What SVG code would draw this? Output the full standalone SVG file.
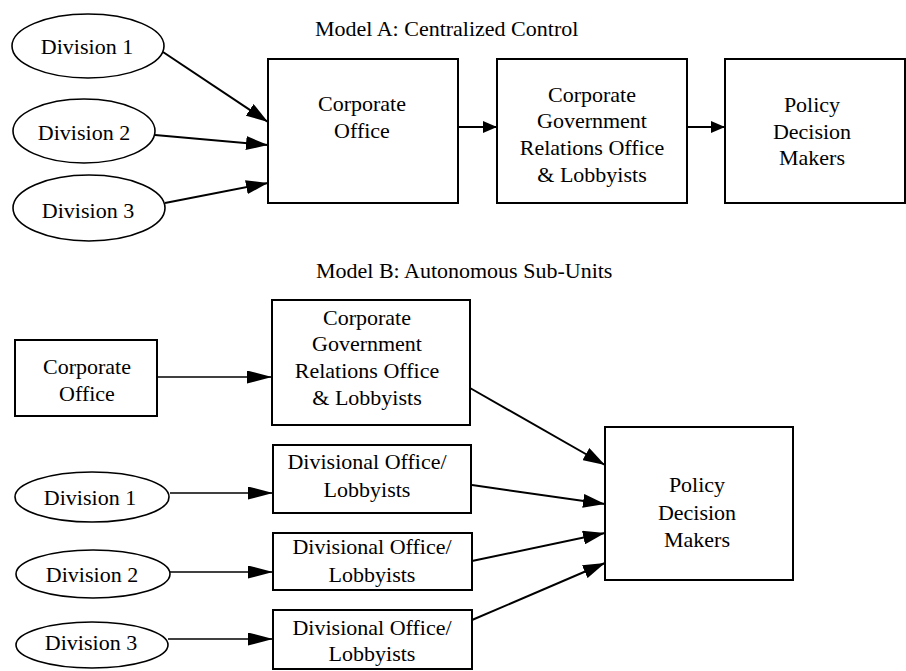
<svg xmlns="http://www.w3.org/2000/svg" width="906" height="671" viewBox="0 0 906 671">
<defs>
<marker id="big" markerUnits="userSpaceOnUse" markerWidth="22" markerHeight="14" refX="22" refY="7" orient="auto"><path d="M0,0 L22,7 L0,14 Z" fill="#000"/></marker>
<marker id="small" markerUnits="userSpaceOnUse" markerWidth="14" markerHeight="12" refX="14" refY="6" orient="auto"><path d="M0,0 L14,6 L0,12 Z" fill="#000"/></marker>
<marker id="slim" markerUnits="userSpaceOnUse" markerWidth="25" markerHeight="13" refX="25" refY="6.5" orient="auto"><path d="M0,0 L25,6.5 L0,13 Z" fill="#000"/></marker>
</defs>
<style>
text{font-family:"Times New Roman",Times,"Liberation Serif",Tinos,"Nimbus Roman","FreeSerif","Noto Serif","DejaVu Serif",serif;font-size:22px;fill:#000;text-anchor:middle}
.title{text-anchor:start}
.box{fill:#fff;stroke:#000;stroke-width:2}
.ell{fill:#fff;stroke:#000;stroke-width:1.6}
.conn line{stroke:#000;stroke-width:2}
.conn .thin{stroke-width:1.6}
</style>
<rect width="906" height="671" fill="#fff"/>

<text class="title" x="315" y="36">Model A: Centralized Control</text>
<text class="title" x="316" y="278">Model B: Autonomous Sub-Units</text>

<g class="conn">
<line x1="163" y1="52" x2="268" y2="122" marker-end="url(#big)"/>
<line x1="155" y1="135" x2="268" y2="145" marker-end="url(#big)"/>
<line x1="165" y1="203" x2="268" y2="183" marker-end="url(#big)"/>
<line x1="458" y1="127" x2="497" y2="127" marker-end="url(#small)"/>
<line x1="687" y1="127" x2="725" y2="127" marker-end="url(#small)"/>
<line class="thin" x1="157" y1="377" x2="272" y2="377" marker-end="url(#slim)"/>
<line class="thin" x1="170" y1="493" x2="273" y2="493" marker-end="url(#slim)"/>
<line class="thin" x1="170" y1="572" x2="273" y2="572" marker-end="url(#slim)"/>
<line class="thin" x1="168" y1="639" x2="273" y2="639" marker-end="url(#slim)"/>
<line x1="470" y1="388" x2="605" y2="465" marker-end="url(#big)"/>
<line x1="472" y1="485" x2="605" y2="504" marker-end="url(#big)"/>
<line x1="472" y1="561" x2="605" y2="533" marker-end="url(#big)"/>
<line x1="472" y1="620" x2="605" y2="563" marker-end="url(#big)"/>
</g>

<g id="a-div1"><ellipse class="ell" cx="88" cy="46" rx="76" ry="32"/><text x="87" y="54">Division 1</text></g>
<g id="a-div2"><ellipse class="ell" cx="84" cy="131" rx="71" ry="32"/><text x="84" y="140">Division 2</text></g>
<g id="a-div3"><ellipse class="ell" cx="89" cy="208" rx="76" ry="33"/><text x="88" y="218">Division 3</text></g>

<g id="a-corp"><rect class="box" x="268" y="59" width="190" height="144"/><text x="362" y="111">Corporate</text><text x="362" y="138">Office</text></g>
<g id="a-cgr"><rect class="box" x="497" y="59" width="190" height="144"/><text x="592" y="102">Corporate</text><text x="592" y="128">Government</text><text x="592" y="155">Relations Office</text><text x="592" y="182">&amp; Lobbyists</text></g>
<g id="a-pdm"><rect class="box" x="725" y="59" width="180" height="144"/><text x="812" y="112">Policy</text><text x="812" y="139">Decision</text><text x="812" y="165">Makers</text></g>

<g id="b-corp"><rect class="box" x="15" y="340" width="142" height="76"/><text x="87" y="374">Corporate</text><text x="87" y="401">Office</text></g>
<g id="b-cgr"><rect class="box" x="272" y="300" width="198" height="125"/><text x="367" y="325">Corporate</text><text x="367" y="351">Government</text><text x="367" y="378">Relations Office</text><text x="367" y="405">&amp; Lobbyists</text></g>

<g id="b-div1"><ellipse class="ell" cx="92" cy="497" rx="77" ry="25"/><text x="90" y="505">Division 1</text></g>
<g id="b-div2"><ellipse class="ell" cx="93" cy="574" rx="77" ry="24"/><text x="92" y="582">Division 2</text></g>
<g id="b-div3"><ellipse class="ell" cx="92" cy="645" rx="76" ry="23"/><text x="91" y="650">Division 3</text></g>

<g id="b-do1"><rect class="box" x="273" y="445" width="198" height="68"/><text x="367" y="469">Divisional Office/</text><text x="367" y="497">Lobbyists</text></g>
<g id="b-do2"><rect class="box" x="273" y="533" width="199" height="57"/><text x="372" y="554">Divisional Office/</text><text x="372" y="582">Lobbyists</text></g>
<g id="b-do3"><rect class="box" x="273" y="610" width="199" height="59"/><text x="372" y="635">Divisional Office/</text><text x="372" y="661">Lobbyists</text></g>

<g id="b-pdm"><rect class="box" x="605" y="427" width="188" height="153"/><text x="697" y="492">Policy</text><text x="697" y="520">Decision</text><text x="697" y="547">Makers</text></g>
</svg>
